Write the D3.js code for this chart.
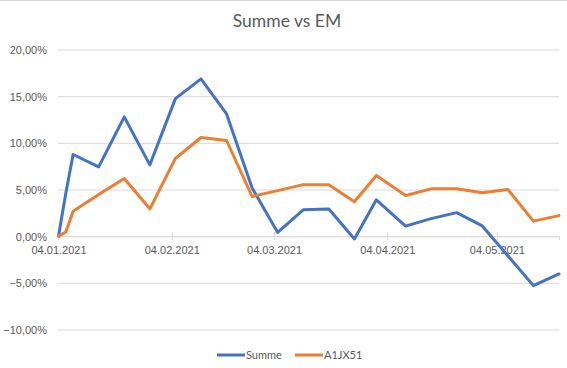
<!DOCTYPE html>
<html>
<head>
<meta charset="utf-8">
<script src="https://cdn.jsdelivr.net/npm/d3@7"></script>
<style>
  html, body { margin: 0; padding: 0; background: #fff; }
  svg { display: block; font-family: Lato, "Open Sans", sans-serif; }
</style>
</head>
<body>
<svg id="chart" width="567" height="368"></svg>
<script>
const title = "Summe vs EM";
const dates = ["2021-01-04","2021-01-06","2021-01-08","2021-01-15","2021-01-22","2021-01-29",
  "2021-02-05","2021-02-12","2021-02-19","2021-02-26","2021-03-05","2021-03-12","2021-03-19",
  "2021-03-26","2021-04-01","2021-04-09","2021-04-16","2021-04-23","2021-04-30","2021-05-07",
  "2021-05-14","2021-05-21"];
const summe = [0, 4.6, 8.75, 7.43, 12.78, 7.64, 14.74, 16.85, 13.1, 5.15, 0.4, 2.83, 2.9, -0.3,
  3.9, 1.08, 1.88, 2.52, 1.1, -2.1, -5.3, -4.05];
const a1jx51 = [0, 0.45, 2.68, 4.46, 6.18, 2.93, 8.32, 10.57, 10.25, 4.25, 4.88, 5.52, 5.52, 3.68,
  6.5, 4.36, 5.07, 5.07, 4.66, 5.0, 1.61, 2.2];
const seriesNames = ["Summe", "A1JX51"];
const seriesColors = ["#4472C4", "#ED7D31"];
const yTicks = [-10, -5, 0, 5, 10, 15, 20];
const xTickDates = ["2021-01-04","2021-02-04","2021-03-04","2021-04-04","2021-05-04"];

const svg = d3.select("#chart");
const parse = d3.utcParse("%Y-%m-%d");
const fmtDate = d3.utcFormat("%d.%m.%Y");
const fmtPct = v => d3.format(".2f")(v).replace(".", ",") + "%";
const textColor = "#595959";
const gridColor = "#D9D9D9";

const x = d3.scaleUtc().domain([parse(dates[0]), parse(dates[dates.length - 1])]).range([58.5, 559]);
const y = d3.scaleLinear().domain([-10, 20]).range([329.5, 49.5]);

// top border line
svg.append("line").attr("x1", 0).attr("x2", 567).attr("y1", 0.5).attr("y2", 0.5)
  .attr("stroke", gridColor).attr("stroke-width", 1);

// title
svg.append("text").attr("x", 287).attr("y", 27).attr("text-anchor", "middle")
  .attr("fill", textColor).style("font-size", "17.5px").text(title);

// y grid + labels
const yAxis = d3.axisLeft(y).tickValues(yTicks).tickSize(0).tickPadding(0).tickFormat(fmtPct);
const yG = svg.append("g").attr("transform", "translate(47,0)").call(yAxis);
yG.select(".domain").remove();
yG.selectAll("text").attr("fill", textColor).style("font-size", "11px").attr("dy", "0.35em");

const grid = d3.axisLeft(y).tickValues(yTicks).tickSize(-(559 - 58)).tickFormat("");
const gG = svg.append("g").attr("transform", "translate(58,0)").call(grid);
gG.select(".domain").remove();
gG.selectAll("line").attr("stroke", gridColor).attr("stroke-width", 1);

// x axis at zero
const xAxis = d3.axisBottom(x).tickValues(xTickDates.map(parse)).tickSize(4).tickPadding(6).tickFormat(fmtDate);
const xG = svg.append("g").attr("transform", `translate(0,${y(0)})`).call(xAxis);
xG.select(".domain").attr("stroke", gridColor);
xG.selectAll(".tick line").attr("stroke", gridColor).attr("y1", -4).attr("y2", 4);
xG.selectAll("text").attr("fill", textColor).style("font-size", "11px");

// lines
const line = d3.line().x((d, i) => x(parse(dates[i]))).y(d => y(d));
[summe, a1jx51].forEach((s, k) => {
  svg.append("path").datum(s).attr("d", line).attr("fill", "none")
    .attr("stroke", seriesColors[k]).attr("stroke-width", 3)
    .attr("stroke-linejoin", "round").attr("stroke-linecap", "round");
});

// legend
const legendX = [217, 295];
seriesNames.forEach((n, k) => {
  const g = svg.append("g").attr("transform", `translate(${legendX[k]},355)`);
  g.append("line").attr("x1", 0).attr("x2", 28).attr("y1", 0).attr("y2", 0)
    .attr("stroke", seriesColors[k]).attr("stroke-width", 3);
  g.append("text").attr("x", 29).attr("y", 0).attr("dy", "0.35em")
    .attr("fill", textColor).style("font-size", "11px").text(n);
});
</script>
</body>
</html>
